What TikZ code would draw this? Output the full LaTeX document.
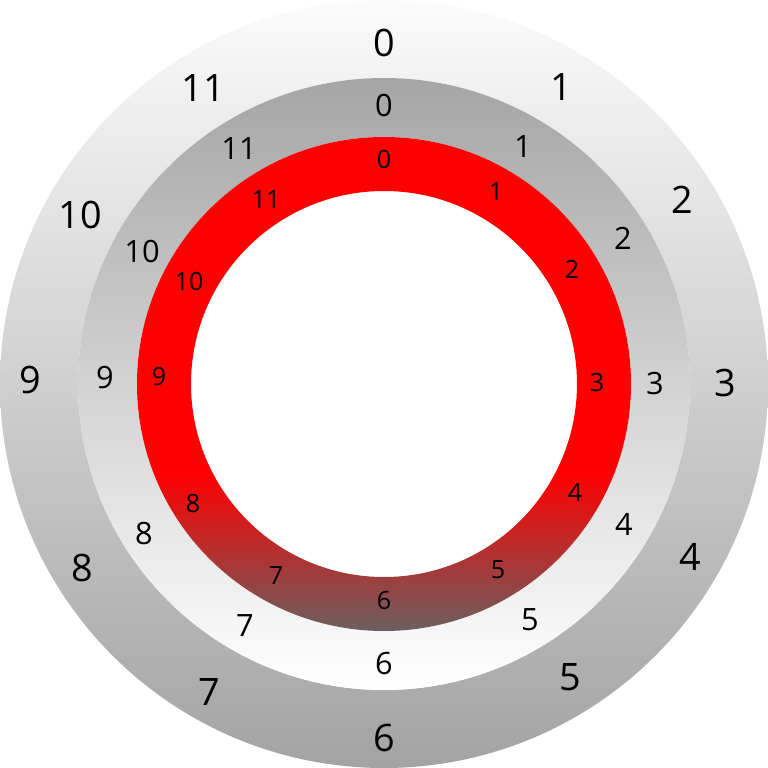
\documentclass[tikz,border=0pt]{standalone}
\usepackage{fontspec}
\setmainfont{Open Sans}
\usepackage{tikz}
\usetikzlibrary{shadings}
\definecolor{outertop}{HTML}{FBFBFB}
\definecolor{outerbot}{HTML}{A3A3A3}
\definecolor{midtop}{HTML}{A5A5A5}
\definecolor{midbot}{HTML}{FFFFFF}
\definecolor{redbot}{HTML}{6B5F5F}
\pgfdeclareverticalshading{redfade}{100bp}{color(0bp)=(redbot); color(25bp)=(redbot); color(41bp)=(red); color(100bp)=(red)}
\tikzset{
  outerlbl/.style={inner sep=0pt, font=\fontsize{21.5}{24}\selectfont},
  midlbl/.style={inner sep=0pt, font=\fontsize{17.5}{20}\selectfont},
  innerlbl/.style={inner sep=0pt, font=\fontsize{14.3}{16}\selectfont}
}

\begin{document}
\begin{tikzpicture}[x=0.02cm, y=0.02cm]
  \useasboundingbox (-384,-384) rectangle (384,384);

  % rings
  \shade[even odd rule, top color=outertop, bottom color=outerbot] (0,0) circle (384) circle (306);
  \shade[even odd rule, top color=midtop, bottom color=midbot] (0,0) circle (306) circle (247);
  \shade[even odd rule, shading=redfade] (0,0) circle (247) circle (193);

  % outer labels
  \foreach \i/\x/\y in {0/0/341, 1/177/297, 2/298/184, 3/341/1, 4/306/-173, 5/186/-293,
                        6/0/-354, 7/-175/-308, 8/-302/-184, 9/-354/4, 10/-304/169, 11/-181/296}
    \node[outerlbl] (o\i) at (\x,\y) {\i};

  % middle labels
  \foreach \i/\x/\y in {0/0/278, 1/139/237, 2/239/146, 3/271/0, 4/240/-140, 5/146/-236,
                        6/0/-280, 7/-139/-242, 8/-240/-150, 9/-279/6, 10/-242/132, 11/-145/235}
    \node[midlbl] (m\i) at (\x,\y) {\i};

  % inner labels
  \foreach \i/\x/\y in {0/0/224, 1/112/192, 2/188/115, 3/213/1, 4/191/-108, 5/114/-186,
                        6/0/-217, 7/-108/-192, 8/-191/-120, 9/-225/7, 10/-195/102, 11/-118/184}
    \node[innerlbl] (n\i) at (\x,\y) {\i};
\end{tikzpicture}
\end{document}
